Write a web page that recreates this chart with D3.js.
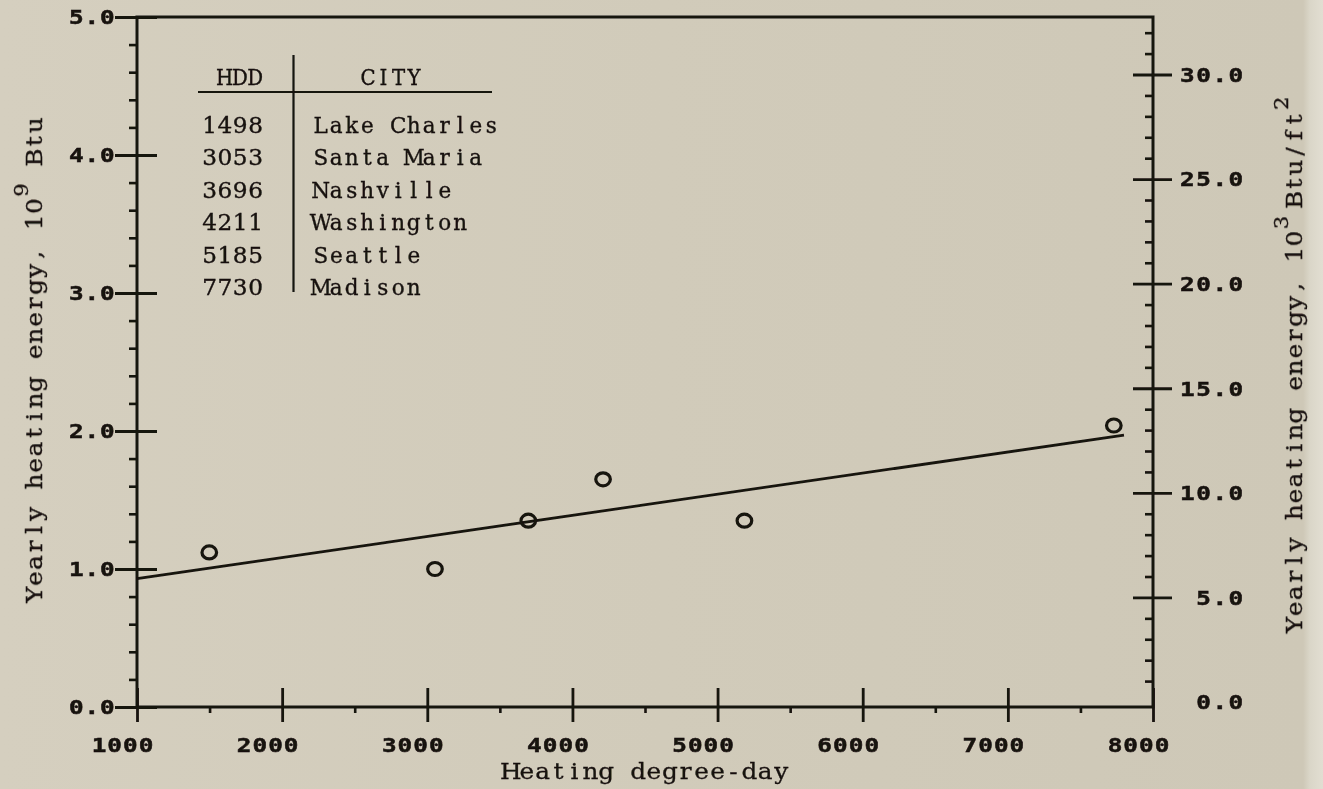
<!DOCTYPE html>
<html>
<head>
<meta charset="utf-8">
<script src="https://cdn.jsdelivr.net/npm/d3@7"></script>
<style>
  html, body { margin: 0; padding: 0; background: #d3cdbc; }
  svg { display: block; }
</style>
</head>
<body>
<svg id="chart" width="1323" height="789"></svg>
<script>
// Yearly heating energy against heating degree-days for six cities
const cities = ["Lake Charles", "Santa Maria", "Nashville", "Washington", "Seattle", "Madison"];
const hdd = [1498, 3053, 3696, 4211, 5185, 7730];
const energy = [1.12, 1.00, 1.35, 1.65, 1.35, 2.04];      // 10^9 Btu

// straight-line trend drawn through the points
const fitHdd = [1000, 7800];
const fitEnergy = [0.93, 1.97];

// axis tick labels
const xTickValues = [1000, 2000, 3000, 4000, 5000, 6000, 7000, 8000];
const leftTickValues = [0, 1, 2, 3, 4, 5];
const rightTickValues = [0, 5, 10, 15, 20, 25, 30];     // 10^3 Btu/ft^2

const INK = "#17120f";
const svg = d3.select("#chart");

// paper background, slightly lighter at the right edge
const defs = svg.append("defs");
const grad = defs.append("linearGradient").attr("id", "paper").attr("x1", 0).attr("x2", 1).attr("y1", 0).attr("y2", 0);
grad.append("stop").attr("offset", "0").attr("stop-color", "#d5cfbf");
grad.append("stop").attr("offset", "0.5").attr("stop-color", "#d1cbba");
grad.append("stop").attr("offset", "0.985").attr("stop-color", "#cec8b7");
grad.append("stop").attr("offset", "0.99").attr("stop-color", "#dad6c8");
grad.append("stop").attr("offset", "1").attr("stop-color", "#e2ded2");
svg.append("rect").attr("width", 1323).attr("height", 789).attr("fill", "url(#paper)");

defs.append("filter").attr("id", "soft")
  .attr("filterUnits", "userSpaceOnUse").attr("x", 0).attr("y", 0).attr("width", 1323).attr("height", 789)
  .append("feGaussianBlur").attr("stdDeviation", 0.55);

const root = svg.append("g").attr("filter", "url(#soft)");

// scales
const x = d3.scaleLinear().domain([1000, 8000]).range([137, 1153]);
const yL = d3.scaleLinear().domain([0, 5]).range([707, 17]);
const yR = d3.scaleLinear().domain([0, 32.75]).range([702, 17]);

// lay out a string on a fixed character grid (typewriter / plotter style)
function gridLayout(text, segments, o) {
  const sx = o.sx || 1;
  const total = d3.sum(segments, s => s.t.length * (s.adv || 1)) * o.cell;
  let pos = o.anchor === "end" ? -total : o.anchor === "middle" ? -total / 2 : 0;
  text.text(null)
    .attr("x", null).attr("dy", null)
    .attr("font-family", o.family)
    .attr("font-size", o.size)
    .attr("font-weight", o.weight || "normal")
    .attr("fill", INK)
    .attr("stroke", o.stroke ? INK : null)
    .attr("stroke-width", o.stroke || null)
    .attr("text-anchor", "middle");
  segments.forEach(s => {
    const step = o.cell * (s.adv || 1);
    const xs = [];
    for (let i = 0; i < s.t.length; i++) { xs.push(((pos + step / 2) / sx).toFixed(2)); pos += step; }
    const ts = text.append("tspan").attr("x", xs.join(" ")).attr("y", s.sup ? -o.supRaise : 0).text(s.t);
    if (s.sup) ts.attr("font-size", o.size * o.supScale);
  });
  return text;
}
// place a grid-laid text with its own horizontal stretch
function placeGrid(text, tx, ty, o, extra) {
  text.attr("y", null).attr("transform", `translate(${tx},${ty})${extra || ""} scale(${o.sx || 1},1)`);
  return text;
}

const tickFont = { family: "DejaVu Sans Mono", size: 19, weight: "bold", sx: 1.28, stroke: 0.5 };
const serif = "DejaVu Serif";

// ---- bottom axis: major ticks cross the line, minor ticks hang below
const xMinor = x.ticks(14).filter(v => !xTickValues.includes(v));
root.append("g").attr("transform", `translate(0,${yL(0)})`)
  .call(d3.axisBottom(x).tickValues(xMinor).tickSize(6).tickFormat(""))
  .call(g => g.select(".domain").remove())
  .call(g => g.selectAll("line").attr("stroke", INK).attr("stroke-width", 2.6));

root.append("g").attr("transform", `translate(0,${yL(0)})`)
  .call(d3.axisBottom(x).tickValues(xTickValues).tickSize(15).tickFormat(d3.format("d")))
  .call(g => g.select(".domain").remove())
  .call(g => g.selectAll("line").attr("y1", -19).attr("stroke", INK).attr("stroke-width", 2.8))
  .call(g => g.selectAll("text").each(function () {
    const t = d3.select(this);
    const o = Object.assign({ cell: 15.7, anchor: "middle" }, tickFont);
    placeGrid(gridLayout(t, [{ t: t.text() }], o), -15, 44.5, o);
  }));

// ---- left axis: 10^9 Btu
const yLMinor = yL.ticks(25).filter(v => Math.abs(v - Math.round(v)) > 1e-6);
root.append("g").attr("transform", `translate(${x(1000)},0)`)
  .call(d3.axisLeft(yL).tickValues(yLMinor).tickSize(8).tickFormat(""))
  .call(g => g.select(".domain").remove())
  .call(g => g.selectAll("line").attr("stroke", INK).attr("stroke-width", 2.6));

root.append("g").attr("transform", `translate(${x(1000)},0)`)
  .call(d3.axisLeft(yL).tickValues(leftTickValues).tickSize(22).tickFormat(d3.format(".1f")))
  .call(g => g.select(".domain").remove())
  .call(g => g.selectAll("line").attr("x1", 20).attr("stroke", INK).attr("stroke-width", 2.8))
  .call(g => g.selectAll("text").each(function () {
    const t = d3.select(this);
    const o = Object.assign({ cell: 15.5, anchor: "end" }, tickFont);
    placeGrid(gridLayout(t, [{ t: t.text() }], o), -22, 6.9, o);
  }));

// ---- right axis: 10^3 Btu/ft^2, minor ticks point inwards
const yRMinor = yR.ticks(33).filter(v => v % 5 !== 0);
root.append("g").attr("transform", `translate(${x(8000)},0)`)
  .call(d3.axisLeft(yR).tickValues(yRMinor).tickSize(8).tickFormat(""))
  .call(g => g.select(".domain").remove())
  .call(g => g.selectAll("line").attr("stroke", INK).attr("stroke-width", 2.6));

root.append("g").attr("transform", `translate(${x(8000)},0)`)
  .call(d3.axisRight(yR).tickValues(rightTickValues).tickSize(19).tickFormat(d3.format(".1f")))
  .call(g => g.select(".domain").remove())
  .call(g => g.selectAll("line")
    .attr("x1", d => d === 0 ? 0 : -20).attr("x2", d => d === 0 ? 0 : 19)
    .attr("stroke", INK).attr("stroke-width", 2.8))
  .call(g => g.selectAll("text").each(function () {
    const t = d3.select(this);
    const o = Object.assign({ cell: 16.2, anchor: "end" }, tickFont);
    placeGrid(gridLayout(t, [{ t: t.text() }], o), 91, 6.9, o);
  }));

// ---- plot frame
const [x0, x1] = x.range();
const [yb, yt] = yL.range();
root.append("path")
  .attr("d", `M${x0},${yb}V${yt}H${x1}V${yb}Z`)
  .attr("fill", "none").attr("stroke", INK).attr("stroke-width", 3);

// ---- trend line
root.append("path")
  .datum(fitHdd.map((h, i) => [h, fitEnergy[i]]))
  .attr("d", d3.line().x(d => x(d[0])).y(d => yL(d[1])))
  .attr("fill", "none").attr("stroke", INK).attr("stroke-width", 2.8);

// ---- city points
root.append("g").selectAll("ellipse")
  .data(hdd.map((h, i) => ({ h, e: energy[i] })))
  .join("ellipse")
  .attr("cx", d => x(d.h)).attr("cy", d => yL(d.e))
  .attr("rx", 7.3).attr("ry", 6.5)
  .attr("fill", "none").attr("stroke", INK).attr("stroke-width", 3.2);

// ---- axis titles
const titleFont = { family: serif, size: 22.5, cell: 16.2, sx: 1.1, supRaise: 14, supScale: 0.85, stroke: 0.3 };

{
  const o = Object.assign({}, titleFont, { anchor: "middle", cell: 15.9 });
  placeGrid(gridLayout(root.append("text"), [{ t: "Heating degree-day" }], o), (x0 + x1) / 2 + 1, 779, o);
}
{
  const o = Object.assign({}, titleFont, { anchor: "start" });
  placeGrid(gridLayout(root.append("text"),
    [{ t: "Yearly heating energy, 10" }, { t: "9", sup: true }, { t: " " }, { t: "Btu" }], o),
    42, 603, o, " rotate(-90)");
}
{
  const o = Object.assign({}, titleFont, { anchor: "start", cell: 16.1 });
  placeGrid(gridLayout(root.append("text"),
    [{ t: "Yearly heating energy, 10" }, { t: "3", sup: true }, { t: " ", adv: 0.4 }, { t: "Btu/ft" }, { t: "2", sup: true }], o),
    1302, 633, o, " rotate(-90)");
}

// ---- city table
const tableFont = { family: serif, size: 21.5, cell: 15.3, sx: 1.0, stroke: 0.35 };
const table = root.append("g");
{
  const o = Object.assign({}, tableFont, { anchor: "middle", sx: 0.92 });
  placeGrid(gridLayout(table.append("text"), [{ t: "HDD" }], o), 240, 85, o);
  placeGrid(gridLayout(table.append("text"), [{ t: "CITY" }], o), 391, 85, o);
}
table.append("line").attr("x1", 198).attr("x2", 492).attr("y1", 92).attr("y2", 92)
  .attr("stroke", INK).attr("stroke-width", 2.2);
table.append("line").attr("x1", 293.5).attr("x2", 293.5).attr("y1", 55).attr("y2", 292)
  .attr("stroke", INK).attr("stroke-width", 2.2);

const rowY = d3.scalePoint().domain(d3.range(cities.length)).range([133, 295]);
cities.forEach((c, i) => {
  const oNum = Object.assign({}, tableFont, { anchor: "start", sx: 1.08 });
  placeGrid(gridLayout(table.append("text"), [{ t: String(hdd[i]) }], oNum), 202, rowY(i), oNum);
  const oCity = Object.assign({}, tableFont, { anchor: "start", cell: 15.5 });
  placeGrid(gridLayout(table.append("text"), [{ t: c }], oCity), 313, rowY(i), oCity);
});
</script>
</body>
</html>
